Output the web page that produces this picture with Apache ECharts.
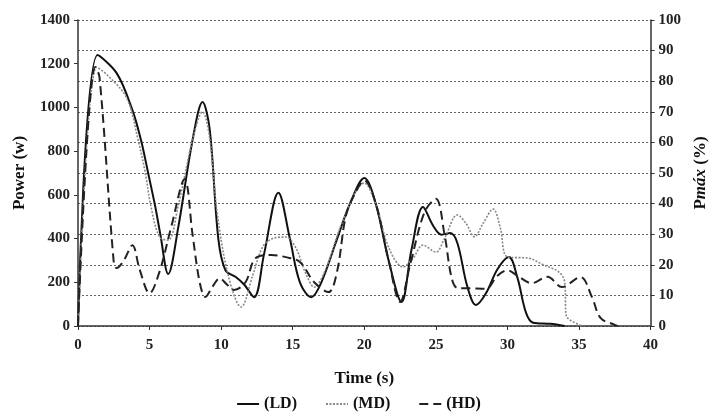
<!DOCTYPE html>
<html><head><meta charset="utf-8">
<script src="https://cdn.jsdelivr.net/npm/echarts@6/dist/echarts.min.js"></script>
<style>html,body{margin:0;padding:0;background:#fff}#c{width:717px;height:417px}</style>
</head><body><div id="c"></div>
<script>
const ldData = [[0,0],[1.37,1240],[2.7,1157],[3.8,988],[4.4,851],[4.9,700],[5.4,545],[5.75,420],[6.3,238],[7,450],[8,850],[8.7,1025],[9.2,900],[9.8,400],[10.3,255],[11,225],[11.6,190],[12.3,132],[13,330],[14,610],[14.8,400],[15.5,200],[16.3,132],[17,200],[18,380],[19,560],[20,677],[20.8,560],[21.7,300],[22.6,110],[23.3,350],[24.1,545],[24.8,460],[25.4,418],[26,425],[26.5,380],[27.2,180],[27.8,96],[28.5,150],[29.3,260],[30.1,316],[30.7,220],[31.3,60],[31.8,15],[33,10],[34,0]];
const mdData = [[0,0],[1.3,1185],[2.05,1148],[3.4,1043],[4.2,851],[4.7,700],[5.1,545],[5.7,407],[6.3,393],[7,550],[8,850],[8.7,980],[9.2,860],[9.7,530],[10.5,230],[11.4,87],[12.2,230],[12.9,362],[13.6,400],[14.5,407],[15.2,360],[15.9,242],[16.5,178],[17.3,260],[18.5,480],[20,654],[20.8,560],[21.7,360],[22.7,270],[23.4,310],[24.1,370],[25,338],[25.6,400],[26.5,508],[27.1,470],[27.7,408],[28.3,470],[29,535],[29.5,450],[30,316],[31.5,310],[32.5,280],[33.6,247],[34,200],[34.1,50],[35,5],[35.3,0]];
const hdData = [[0,0],[1.2,1185],[1.5,1140],[2.5,290],[2.7,265],[3.2,300],[3.8,370],[4.3,260],[5,150],[5.7,250],[6.5,450],[7.45,672],[8,420],[8.5,200],[8.9,133],[9.4,180],[9.9,218],[10.4,190],[10.9,165],[11.7,200],[12.4,310],[13.5,325],[14.5,315],[15.5,293],[16.5,200],[17.5,155],[18.1,250],[18.7,500],[19.3,600],[20,665],[20.8,560],[21.7,300],[22.5,110],[23.2,280],[24.2,520],[25,582],[25.6,420],[26.1,220],[26.5,174],[27.5,172],[28.5,170],[29.3,230],[30,255],[30.7,230],[31.7,196],[32.8,225],[33.8,178],[35.1,224],[35.9,133],[36.5,37],[37.5,5],[37.7,0]];
const seriesNames = ['(LD)','(MD)','(HD)'];
const xTicks = {min:0,max:40,interval:5};
const leftTicks = {min:0,max:1400,interval:200};
const rightTicks = {min:0,max:100,interval:10};

const FONT = '"Liberation Serif", "DejaVu Serif", serif';
const lbl = {fontFamily:FONT,fontWeight:'bold',fontSize:15,color:'#222',formatter:v=>String(v)};
const chart = echarts.init(document.getElementById('c'));
chart.setOption({
  animation:false,
  grid:{left:78,right:54,top:20,bottom:91},
  legend:{
    data:seriesNames, bottom:0, left:'center', itemWidth:22, itemHeight:10, itemGap:28,
    itemStyle:{opacity:0},
    textStyle:{fontFamily:FONT,fontWeight:'bold',fontSize:16,color:'#111'}
  },
  xAxis:{
    type:'value', min:xTicks.min, max:xTicks.max, interval:xTicks.interval,
    name:'Time (s)', nameLocation:'middle', nameGap:44,
    nameTextStyle:{fontFamily:FONT,fontWeight:'bold',fontSize:17,color:'#111'},
    axisLine:{lineStyle:{color:'#333',width:1.5}},
    axisTick:{show:true,inside:false,length:4,lineStyle:{color:'#333'}},
    axisLabel:Object.assign({margin:12},lbl),
    splitLine:{show:false}
  },
  yAxis:[{
    type:'value', min:leftTicks.min, max:leftTicks.max, interval:leftTicks.interval,
    name:'Power (w)', nameLocation:'middle', nameGap:50, nameRotate:90,
    nameTextStyle:{fontFamily:FONT,fontWeight:'bold',fontSize:17,color:'#111'},
    axisLine:{show:true,lineStyle:{color:'#333',width:1.5}},
    axisTick:{show:true,length:4,lineStyle:{color:'#333'}},
    axisLabel:Object.assign({margin:8},lbl),
    splitLine:{show:false}
  },{
    type:'value', position:'right', min:rightTicks.min, max:rightTicks.max, interval:rightTicks.interval,
    name:'{p|P}{i|máx}{p| (%)}', nameLocation:'middle', nameGap:34, nameRotate:90,
    nameTextStyle:{fontFamily:FONT,fontWeight:'bold',fontSize:17,color:'#111',
      rich:{p:{fontFamily:FONT,fontWeight:'bold',fontStyle:'normal',fontSize:17,color:'#111'},
            i:{fontFamily:FONT,fontWeight:'bold',fontStyle:'italic',fontSize:17,color:'#111'}}},
    axisLine:{show:true,lineStyle:{color:'#333',width:1.5}},
    axisTick:{show:true,length:4,lineStyle:{color:'#333'}},
    axisLabel:Object.assign({margin:8},lbl),
    splitLine:{show:true,lineStyle:{type:[2,2],color:'#666',width:1}}
  }],
  series:[
    {name:seriesNames[0],type:'line',data:ldData,smooth:0.35,showSymbol:false,symbol:'none',
     lineStyle:{color:'#111',width:2},itemStyle:{color:'#111'}},
    {name:seriesNames[1],type:'line',data:mdData,smooth:0.35,showSymbol:false,symbol:'none',
     lineStyle:{color:'#888',width:1.6,type:[2,1.5]},itemStyle:{color:'#888'}},
    {name:seriesNames[2],type:'line',data:hdData,smooth:0.35,showSymbol:false,symbol:'none',
     lineStyle:{color:'#222',width:2,type:[9,5]},itemStyle:{color:'#222'}}
  ]
});
</script></body></html>
